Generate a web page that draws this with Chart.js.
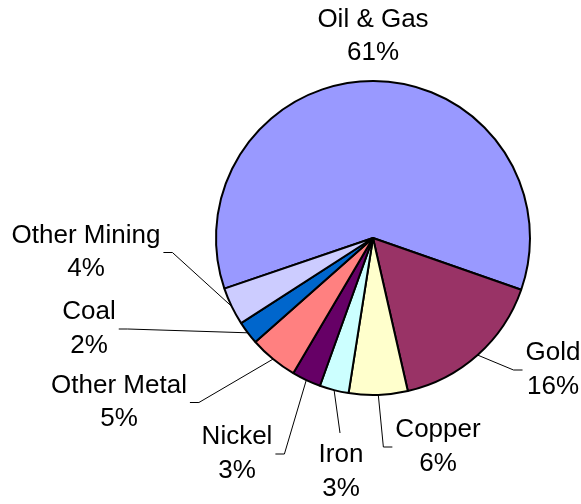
<!DOCTYPE html>
<html>
<head>
<meta charset="utf-8">
<title>Pie chart</title>
<script src="https://cdn.jsdelivr.net/npm/chart.js@4/dist/chart.umd.min.js"></script>
<style>
  html, body { margin: 0; padding: 0; background: #fff; }
  #wrap { width: 581px; height: 504px; }
</style>
</head>
<body>
<div id="wrap"><canvas id="pieChart" width="581" height="504"></canvas></div>
<script>
// Data (share of each sector, in %)
const categories = ["Oil & Gas", "Gold", "Copper", "Iron", "Nickel", "Other Metal", "Coal", "Other Mining"];
const shares = [60.6, 16.1, 6.05, 3.0, 3.0, 5.0, 2.4, 3.9];

// Slice colours (old Excel palette)
const sliceColors = ["#9999FF", "#993366", "#FFFFCC", "#CCFFFF", "#660066", "#FF8080", "#0066CC", "#CCCCFF"];

// Where each label block sits (centre of the two lines) and which side the leader attaches to
const labelLayout = [
    { x: 373, y: 36.5, side: "none" },
    { x: 553, y: 370, side: "left" },
    { x: 438, y: 447, side: "left" },
    { x: 341, y: 472, side: "top" },
    { x: 237, y: 454, side: "right" },
    { x: 119, y: 402.5, side: "right" },
    { x: 89, y: 329, side: "right" },
    { x: 86, y: 252.5, side: "right" },
];

const FONT = "26px 'Liberation Sans', Arial, sans-serif";
const LINE_GAP = 33.5;

// Draws the outside labels with their leader lines
const outsideLabels = {
    id: "outsideLabels",
    afterDatasetsDraw(chart) {
        const ctx = chart.ctx;
        const meta = chart.getDatasetMeta(0);
        const total = shares.reduce((a, b) => a + b, 0);
        ctx.save();
        ctx.font = FONT;
        ctx.textAlign = "center";
        ctx.textBaseline = "middle";
        meta.data.forEach((arc, i) => {
            const p = arc.getProps(["x", "y", "startAngle", "endAngle", "outerRadius"], true);
            const mid = (p.startAngle + p.endAngle) / 2;
            const ax = p.x + Math.cos(mid) * p.outerRadius;
            const ay = p.y + Math.sin(mid) * p.outerRadius;
            const pos = labelLayout[i];
            const lines = [categories[i], Math.round(shares[i] / total * 100) + "%"];
            const halfW = Math.max(...lines.map((t) => ctx.measureText(t).width)) / 2;

            // leader line
            let pts = null;
            if (pos.side === "right") {
                const ex = pos.x + halfW + 3;
                pts = [[ex, pos.y], [ex + 9, pos.y], [ax, ay]];
            } else if (pos.side === "left") {
                const ex = pos.x - halfW - 3;
                pts = [[ex, pos.y], [ex - 9, pos.y], [ax, ay]];
            } else if (pos.side === "top") {
                pts = [[pos.x - 1, pos.y - 39], [ax, ay]];
            }
            if (pts) {
                ctx.beginPath();
                ctx.moveTo(pts[0][0], pts[0][1]);
                for (let k = 1; k < pts.length; k++) ctx.lineTo(pts[k][0], pts[k][1]);
                ctx.strokeStyle = "#000";
                ctx.lineWidth = 1;
                ctx.stroke();
            }

            // text
            ctx.fillStyle = "#000";
            ctx.fillText(lines[0], pos.x, pos.y - LINE_GAP / 2);
            ctx.fillText(lines[1], pos.x, pos.y + LINE_GAP / 2);
        });
        ctx.restore();
    },
};

const ctx = document.getElementById("pieChart").getContext("2d");
const myChart = new Chart(ctx, {
    type: "pie",
    data: {
        labels: categories,
        datasets: [
            {
                data: shares,
                backgroundColor: sliceColors,
                borderColor: "#000",
                borderWidth: 2,
            },
        ],
    },
    options: {
        responsive: false,
        animation: false,
        devicePixelRatio: 1,
        rotation: 251.2,
        radius: 157,
        layout: {
            padding: { left: 216, right: 51, top: 81, bottom: 109 },
        },
        plugins: {
            legend: { display: false },
            tooltip: { enabled: false },
        },
    },
    plugins: [outsideLabels],
});
</script>
</body>
</html>
